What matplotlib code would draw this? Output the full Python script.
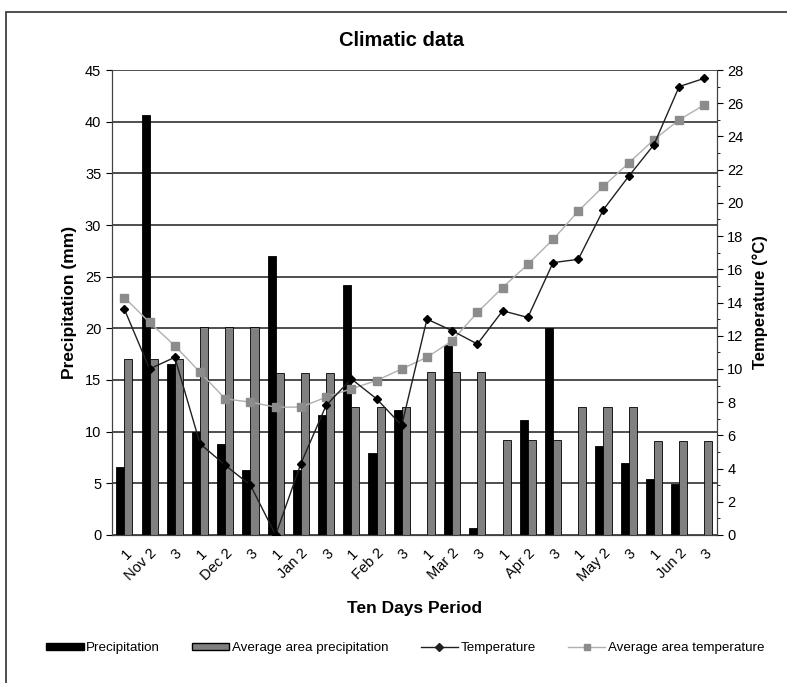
import matplotlib
matplotlib.use("Agg")
from matplotlib import pyplot as plt
from matplotlib.patches import Patch, Rectangle
from matplotlib.lines import Line2D
from matplotlib.ticker import MultipleLocator
import numpy as np

plt.rcParams['font.family'] = ['Liberation Sans', 'DejaVu Sans']

# ten-day periods, Nov to Jun
months = ["Nov", "Dec", "Jan", "Feb", "Mar", "Apr", "May", "Jun"]
period_labels = []
for m in months:
    period_labels += ["1", m + " 2", "3"]

precipitation = [6.6, 40.6, 16.5, 10.0, 8.8, 6.3, 27.0, 6.3, 11.6, 24.2, 7.9, 12.1,
                 0.0, 18.4, 0.7, 0.0, 11.1, 20.0, 0.0, 8.6, 7.0, 5.4, 4.9, 0.0]
avg_precipitation = [17.0, 17.0, 17.0, 20.1, 20.1, 20.1, 15.7, 15.7, 15.7, 12.4, 12.4, 12.4,
                     15.8, 15.8, 15.8, 9.2, 9.2, 9.2, 12.4, 12.4, 12.4, 9.1, 9.1, 9.1]
temperature = [13.6, 10.0, 10.7, 5.5, 4.2, 3.0, 0.0, 4.3, 7.8, 9.4, 8.2, 6.6,
               13.0, 12.3, 11.5, 13.5, 13.1, 16.4, 16.6, 19.6, 21.6, 23.5, 27.0, 27.5]
avg_temperature = [14.3, 12.8, 11.4, 9.8, 8.2, 8.0, 7.7, 7.7, 8.3, 8.8, 9.3, 10.0,
                   10.7, 11.7, 13.4, 14.9, 16.3, 17.8, 19.5, 21.0, 22.4, 23.8, 25.0, 25.9]

x = np.arange(len(period_labels))
w = 0.32

fig = plt.figure(figsize=(7.87, 6.83), dpi=100)
ax = fig.add_axes([0.142, 0.2167, 0.769, 0.6808])
ax2 = ax.twinx()

# grid first, behind bars
ax.set_axisbelow(True)
ax.yaxis.grid(True, color='#303030', linewidth=1.2)

ax.bar(x - w / 2, precipitation, w, color='black', edgecolor='black', linewidth=0.6, zorder=2)
ax.bar(x + w / 2, avg_precipitation, w, color='#808080', edgecolor='black', linewidth=0.6, zorder=2)

ax2.plot(x, avg_temperature, color='#b0b0b0', linewidth=1.0, marker='s', markersize=6,
         markerfacecolor='#8c8c8c', markeredgecolor='#8c8c8c', zorder=3)
ax2.plot(x, temperature, color='#202020', linewidth=1.0, marker='D', markersize=4,
         markerfacecolor='black', markeredgecolor='black', zorder=4)

ax.set_xlim(-0.5, len(x) - 0.5)
ax.set_ylim(0, 45)
ax2.set_ylim(0, 28)
ax.yaxis.set_major_locator(MultipleLocator(5))
ax2.yaxis.set_major_locator(MultipleLocator(2))
ax2.yaxis.set_minor_locator(MultipleLocator(1))

ax.set_xticks(x)
ax.set_xticklabels(period_labels, rotation=45, ha='right', rotation_mode='anchor', fontsize=10.5)
ax.tick_params(axis='x', length=0, pad=8)
ax.tick_params(axis='y', labelsize=10.5, direction='out', length=4)
ax2.tick_params(axis='y', which='major', labelsize=10.5, direction='out', length=4)
ax2.tick_params(axis='y', which='minor', direction='out', length=2.5)

for a in (ax, ax2):
    a.spines['top'].set_visible(False)
    for s in ('left', 'right', 'bottom'):
        a.spines[s].set_color('#404040')

ax.set_ylabel("Precipitation (mm)", fontsize=12.5, fontweight='bold', labelpad=6)
ax2.set_ylabel("Temperature (\u00b0C)", fontsize=12, fontweight='bold', labelpad=6)
ax.set_xlabel("Ten Days Period", fontsize=12.5, fontweight='bold', labelpad=12)
fig.text(0.51, 0.94, "Climatic data", ha='center', va='center', fontsize=14.5, fontweight='bold')

handles = [
    Patch(facecolor='black', edgecolor='black'),
    Patch(facecolor='#808080', edgecolor='black'),
    Line2D([], [], color='#202020', marker='D', markersize=4, linewidth=1.0),
    Line2D([], [], color='#b0b0b0', marker='s', markersize=5, markerfacecolor='#8c8c8c',
           markeredgecolor='#8c8c8c', linewidth=1.0),
]
names = ["Precipitation", "Average area precipitation", "Temperature", "Average area temperature"]
fig.legend(handles, names, loc='center', bbox_to_anchor=(0.515, 0.051), ncol=4, frameon=False,
           fontsize=9.6, handlelength=2.8, handleheight=0.5, handletextpad=0.2, columnspacing=2.4)

# outer frame of the chart
fig.patches.append(Rectangle((0.008, -0.01), 1.2, 0.993, transform=fig.transFigure,
                             fill=False, edgecolor='#303030', linewidth=1.2))

fig.savefig("out.png", dpi=100)
